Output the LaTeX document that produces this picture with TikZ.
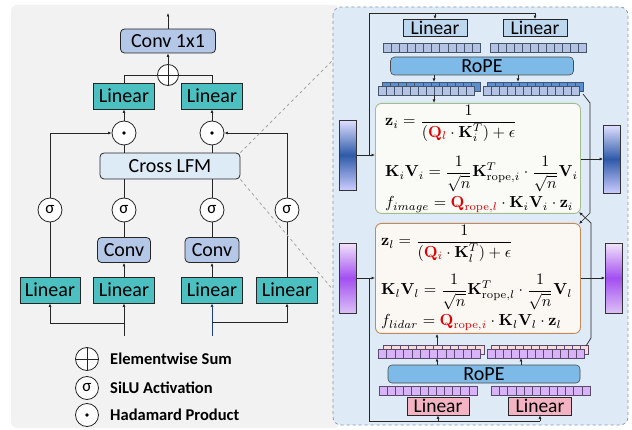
\documentclass[tikz,border=0pt]{standalone}
\usepackage[no-math]{fontspec}
\usepackage{graphicx}
\setmainfont{Carlito}
\usetikzlibrary{arrows.meta,calc}
\definecolor{bggray}{HTML}{F2F2F2}
\definecolor{panelfill}{HTML}{DEEAF6}
\definecolor{paneldraw}{HTML}{8497B0}
\definecolor{tealc}{HTML}{4CBFC0}
\definecolor{convc}{HTML}{B4C7E7}
\definecolor{lfmc}{HTML}{DDEBF7}
\definecolor{inblue}{HTML}{1F3C88}
\definecolor{rlinc}{HTML}{BDD7EE}
\definecolor{ropec}{HTML}{7DBAE8}
\definecolor{tokblue}{HTML}{B4C2E4}
\definecolor{tokdark}{HTML}{5B8FD0}
\definecolor{tokline}{HTML}{44546A}
\definecolor{tokpurp}{HTML}{D9B3F8}
\definecolor{tokpeach}{HTML}{F8DCD8}
\definecolor{purpline}{HTML}{5A4A70}
\definecolor{pinkc}{HTML}{F4B3C2}
\definecolor{greenb}{HTML}{A3BD8F}
\definecolor{eqI}{HTML}{FAFAF6}
\definecolor{orangeb}{HTML}{C4895B}
\definecolor{eqL}{HTML}{FBF7F3}
\definecolor{qred}{HTML}{E00000}
\newcommand\tokstrip[6]{\foreach \k in {1,...,#3}{\draw[line width=0.5pt, draw=#6, fill=#5] ({#1+(\k-1)*#4},#2) rectangle +(#4,9);}}
\newcommand\qr[1]{\textcolor{qred}{#1}}
\newcommand\eqs[1]{\scalebox{1.6}{$\displaystyle #1$}}
\tikzset{
 ln/.style={draw=black!85, line width=0.8pt},
 arr/.style={ln, -{Latex[length=3.5pt,width=3pt]}},
 tbox/.style={draw=black!85, line width=0.8pt, fill=tealc, minimum width=61pt, minimum height=26pt, inner sep=0pt, font=\fontsize{20}{20}\selectfont},
 cbox/.style={draw=black!85, line width=0.8pt, fill=convc, rounded corners=4pt, minimum height=25pt, inner sep=0pt, font=\fontsize{20}{20}\selectfont},
 opc/.style={circle, draw=black!85, line width=0.8pt, fill=white, minimum size=24pt, inner sep=0pt, font=\fontsize{17}{17}\selectfont},
 legtxt/.style={anchor=west, inner sep=0pt, font=\fontsize{16.5}{16.5}\selectfont\bfseries},
 rlin/.style={draw=black!85, line width=0.7pt, minimum width=63pt, minimum height=18pt, inner sep=0pt, font=\fontsize{19.5}{19.5}\selectfont},
 ropebox/.style={draw=black!70, line width=0.6pt, fill=ropec, rounded corners=4pt, minimum height=18pt, inner sep=0pt, font=\fontsize{20}{20}\selectfont},
 eqbox/.style={line width=0.9pt, rounded corners=6pt, minimum width=205pt, minimum height=110pt, anchor=north west},
 bar/.style={draw=black!80, line width=0.7pt, minimum width=17pt, minimum height=70pt, inner sep=0pt},
 rln/.style={draw=black!85, line width=0.7pt},
 rarr/.style={rln, -{Latex[length=3.5pt,width=3pt]}},
 eqtxt/.style={anchor=base west, inner sep=0pt},
}
\begin{document}
\begin{tikzpicture}[x=1pt,y=-1pt]
\useasboundingbox (0,0) rectangle (632,430);
\fill[bggray, rounded corners=6pt] (11,5) rectangle (340,428);

% ---------- left panel ----------
\node[cbox, minimum width=95pt, minimum height=24pt] (c11) at (168,41) {Conv 1x1};
\coordinate (out) at (168,13);
\draw[arr] (c11.north) -- (out);
\node[opc, minimum size=21pt] (plus) at (168,75) {};
\draw[ln] (plus.north) -- (plus.south) (plus.west) -- (plus.east);
\draw[arr] (plus.north) -- (c11.south);
\node[tbox] (lA) at (124,96) {Linear};
\node[tbox] (lB) at (212,96) {Linear};
\draw[ln] (lA.north) |- (plus.west);
\draw[ln] (lB.north) |- (plus.east);
\node[opc] (hA) at (124,133) {};
\node[opc] (hB) at (212,133) {};
\fill (hA) circle (1.8);
\fill (hB) circle (1.8);
\draw[arr] (hA.north) -- (lA.south);
\draw[arr] (hB.north) -- (lB.south);
\node[cbox, fill=lfmc, minimum width=140pt, minimum height=26pt] (lfm) at (170,166) {Cross LFM};
\draw[ln] (lfm.north -| hA) -- (hA.south);
\draw[ln] (lfm.north -| hB) -- (hB.south);
\node[opc] (s1) at (50,210) {σ};
\node[opc] (s2) at (124,210) {σ};
\node[opc] (s3) at (212,210) {σ};
\node[opc] (s4) at (287,210) {σ};
\draw[arr] (s1.north) |- (hA.west);
\draw[arr] (s4.north) |- (hB.east);
\draw[ln] (lfm.south -| s2) -- (s2.north);
\draw[ln] (lfm.south -| s3) -- (s3.north);
\node[cbox, minimum width=53pt] (cA) at (124,250) {Conv};
\node[cbox, minimum width=54pt] (cB) at (212,250) {Conv};
\draw[ln] (cA.north) -- (s2.south);
\draw[ln] (cB.north) -- (s3.south);
\node[tbox, minimum width=60pt] (b1) at (50,290) {Linear};
\node[tbox] (b2) at (124,290) {Linear};
\node[tbox] (b3) at (212,290) {Linear};
\node[tbox] (b4) at (287,290) {Linear};
\draw[ln] (b1.north) -- (s1.south);
\draw[ln] (b4.north) -- (s4.south);
\draw[arr] (b2.north) -- (cA.south);
\draw[arr] (b3.north) -- (cB.south);
\coordinate (inA) at (124,336);
\coordinate (jA) at (124,323);
\draw[arr] (inA) -- (b2.south);
\draw[arr] (jA) -| (b1.south);
\coordinate (inB) at (212,336);
\coordinate (jB) at (212,322);
\draw[arr, draw=inblue] (inB) -- (b3.south);
\draw[arr] (jB) -| (b4.south);

% legend
\node[opc, minimum size=23pt] (g1) at (87,359) {};
\draw[ln] (g1.north) -- (g1.south) (g1.west) -- (g1.east);
\node[legtxt] (t1) at (110,359) {Elementwise Sum};
\node[opc, minimum size=23pt] (g2) at (87,388) {σ};
\node[legtxt] (t2) at (110,388) {SiLU Activation};
\node[opc, minimum size=23pt] (g3) at (87,415) {};
\fill (g3) circle (1.8);
\node[legtxt] (t3) at (110,415) {Hadamard Product};

% zoom lines
\coordinate (zt) at (334,59);
\coordinate (zb) at (334,291);
\draw[gray!70, line width=0.8pt, dashed] (lfm.north east) -- (zt);
\draw[gray!70, line width=0.8pt, dashed] (lfm.south east) -- (zb);

% ---------- right panel ----------
\draw[draw=paneldraw, fill=panelfill, line width=0.7pt, dashed, rounded corners=8pt] (333,7) rectangle (628,425);

% top branch
\node[rlin, fill=rlinc, minimum width=64pt, minimum height=17pt] (ltA) at (435,28) {Linear};
\node[rlin, fill=rlinc, minimum width=64pt, minimum height=17pt] (ltB) at (535,28) {Linear};
\tokstrip{383}{43}{12}{8.1}{tokblue}{tokline}
\tokstrip{490}{43}{12}{8.0}{tokblue}{tokline}
\node[ropebox, minimum width=183pt] (ropeT) at (482,66) {RoPE};
\tokstrip{382}{82}{12}{8.15}{tokdark}{tokline}
\tokstrip{378}{86}{12}{8.0}{tokblue}{tokline}
\tokstrip{487}{82}{12}{8.0}{tokdark}{tokline}
\tokstrip{483}{86}{12}{8.0}{tokblue}{tokline}

% bottom branch
\tokstrip{383}{345}{12}{8.4}{tokpeach}{purpline}
\tokstrip{378}{349}{12}{8.5}{tokpurp}{purpline}
\tokstrip{491}{345}{12}{8.1}{tokpeach}{purpline}
\tokstrip{487}{349}{12}{8.1}{tokpurp}{purpline}
\node[ropebox, minimum width=192pt] (ropeB) at (484,374) {RoPE};
\tokstrip{379}{386}{12}{8.17}{tokpurp}{purpline}
\tokstrip{491}{386}{12}{8.25}{tokpurp}{purpline}
\node[rlin, fill=pinkc, minimum width=62pt] (lpA) at (438,406) {Linear};
\node[rlin, fill=pinkc, minimum width=63pt] (lpB) at (540,406) {Linear};

% equation boxes
\node[eqbox, draw=greenb, fill=eqI] (bI) at (375,103) {};
\node[eqbox, draw=orangeb, fill=eqL] (bL) at (375,223) {};

\node[eqtxt] (eI1) at (385,126) {\eqs{\mathbf{z}_i = \frac{1}{(\qr{\mathbf{Q}_l}\cdot\mathbf{K}_i^T)+\epsilon}}};
\node[eqtxt] (eI2) at (385,177) {\eqs{\mathbf{K}_i\mathbf{V}_i = \frac{1}{\sqrt{n}}\mathbf{K}^T_{\mathrm{rope},i}\cdot\frac{1}{\sqrt{n}}\mathbf{V}_i}};
\node[eqtxt] (eI3) at (385,208) {\eqs{f_{image} = \qr{\mathbf{Q}_{\mathrm{rope},l}}\cdot\mathbf{K}_i\mathbf{V}_i\cdot\mathbf{z}_i}};
\node[eqtxt] (eL1) at (381,246) {\eqs{\mathbf{z}_l = \frac{1}{(\qr{\mathbf{Q}_i}\cdot\mathbf{K}_l^T)+\epsilon}}};
\node[eqtxt] (eL2) at (381,295) {\eqs{\mathbf{K}_l\mathbf{V}_l = \frac{1}{\sqrt{n}}\mathbf{K}^T_{\mathrm{rope},l}\cdot\frac{1}{\sqrt{n}}\mathbf{V}_l}};
\node[eqtxt] (eL3) at (381,326) {\eqs{f_{lidar} = \qr{\mathbf{Q}_{\mathrm{rope},i}}\cdot\mathbf{K}_l\mathbf{V}_l\cdot\mathbf{z}_l}};

% feature bars
\node[bar, top color=blue!12!white, bottom color=blue!20!white, middle color={rgb,255:red,46;green,90;blue,168}] (barIL) at (348,155) {};
\node[bar, minimum height=68pt, top color=blue!12!white, bottom color=blue!20!white, middle color={rgb,255:red,46;green,90;blue,168}] (barIR) at (612,159) {};
\node[bar, top color={rgb,255:red,242;green,228;blue,251}, bottom color={rgb,255:red,220;green,192;blue,246}, middle color={rgb,255:red,162;green,79;blue,240}] (barLL) at (348,278) {};
\node[bar, top color={rgb,255:red,242;green,228;blue,251}, bottom color={rgb,255:red,220;green,192;blue,246}, middle color={rgb,255:red,162;green,79;blue,240}] (barLR) at (614,278) {};

% connectors right panel
\draw[rarr] (barIL.east) -- (barIL.east -| bI.west);
\draw[rarr] (barLL.east) -- (barLL.east -| bL.west);
\coordinate (vI) at (369,155);
\coordinate (tl) at (369,13);
\draw[rln] (vI) -- (tl) -- (tl -| ltB);
\draw[rarr] (tl -| ltA) -- (ltA.north);
\draw[rarr] (tl -| ltB) -- (ltB.north);
\coordinate (vL) at (369,278);
\coordinate (bl) at (369,421);
\draw[rln] (vL) -- (bl) -- (bl -| lpB);
\draw[rarr] (bl -| lpA) -- (lpA.south);
\draw[rarr] (bl -| lpB) -- (lpB.south);
\draw[rarr] (bI.east |- barIR) -- (barIR.west);
\draw[rarr] (bL.east |- barLR) -- (barLR.west);

\coordinate (sIa) at (434,82);
\coordinate (sIb) at (518,82);
\coordinate (sIc) at (434,95);
\draw[rarr] (ropeT.south -| sIa) -- (sIa);
\draw[rarr] (ropeT.south -| sIb) -- (sIb);
\draw[rarr] (sIc) -- (sIc |- bI.north);
\coordinate (sLa) at (437,358);
\coordinate (sLb) at (521,358);
\coordinate (sLc) at (437,345);
\draw[rarr] (ropeB.north -| sLa) -- (sLa);
\draw[rarr] (ropeB.north -| sLb) -- (sLb);
\draw[rarr] (sLc) -- (sLc |- bL.south);

\coordinate (qI) at (583,94);
\coordinate (qI2) at (590,103);
\coordinate (qI3) at (590,213);
\coordinate (tL) at (579,224);
\coordinate (qL) at (586,346);
\coordinate (qL2) at (591,338);
\coordinate (qL3) at (591,223);
\coordinate (tI) at (579,212);
\draw[rarr] (qI) -- (qI2) -- (qI3) -- (tL);
\draw[rarr] (qL) -- (qL2) -- (qL3) -- (tI);
\end{tikzpicture}
\end{document}
